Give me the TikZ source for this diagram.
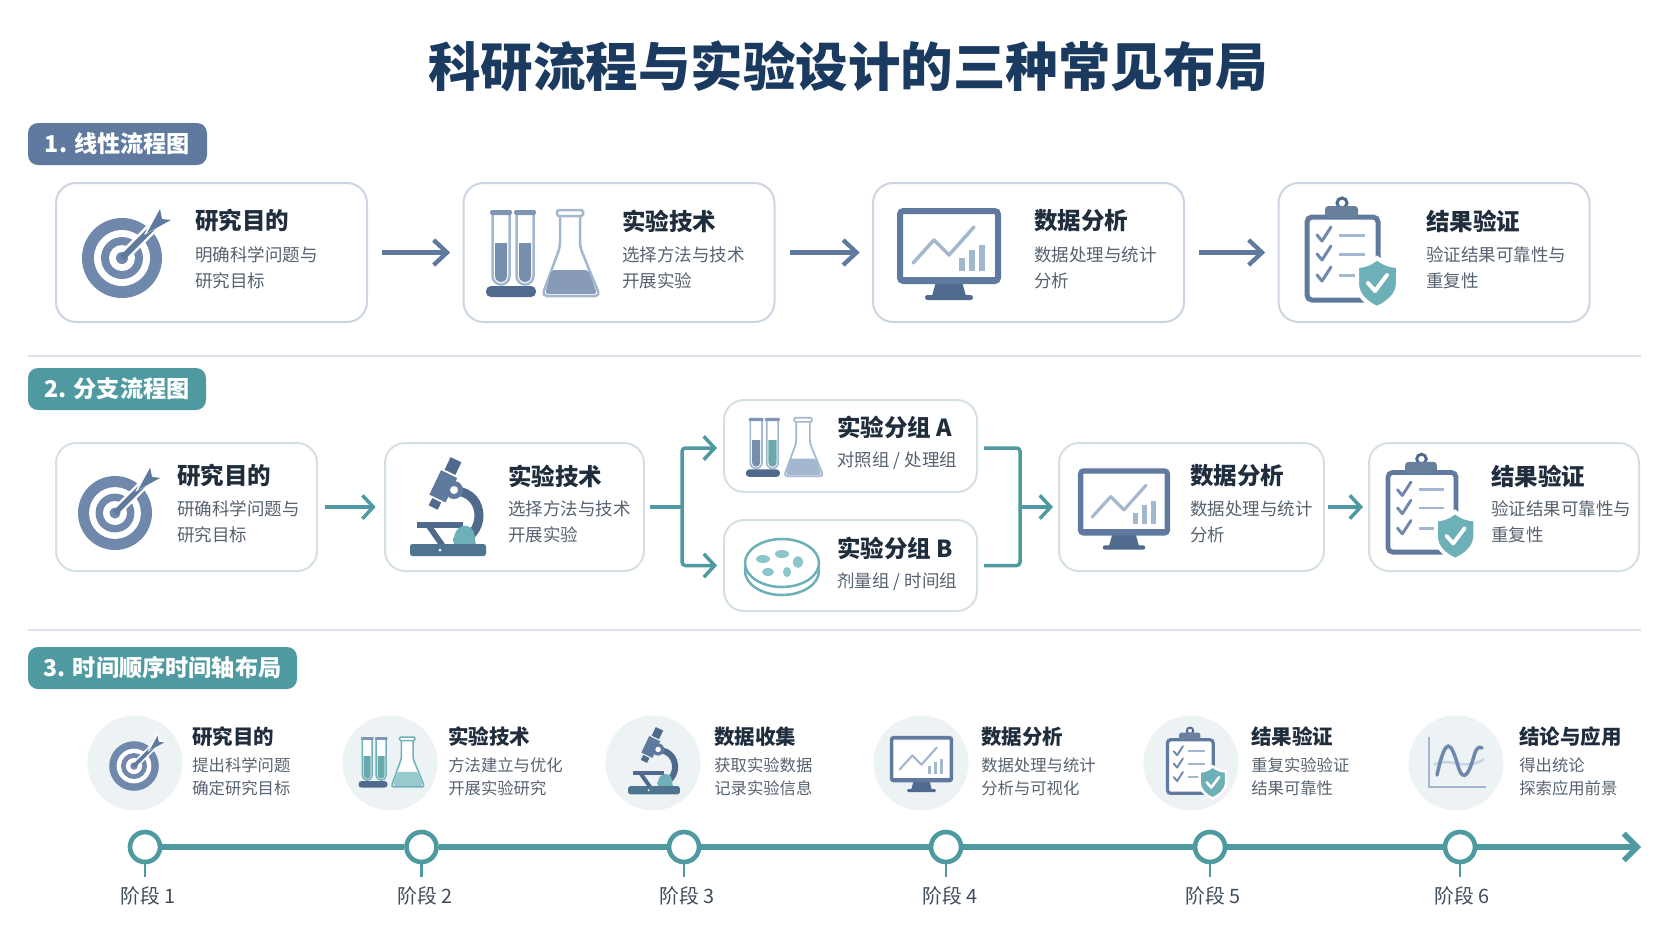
\documentclass[tikz,border=0pt]{standalone}
\usepackage{fontspec}
\setmainfont{Noto Sans CJK SC}
\usetikzlibrary{arrows.meta}

\definecolor{inktitle}{HTML}{1B3A5F}
\definecolor{inkhead}{HTML}{1F2D3D}
\definecolor{inksub}{HTML}{56626F}
\definecolor{slate}{HTML}{5F7A9E}
\definecolor{slatedark}{HTML}{4F6A8C}
\definecolor{slatelight}{HTML}{A3B8CF}
\definecolor{targetblue}{HTML}{7088AC}
\definecolor{teal}{HTML}{4E9AA0}
\definecolor{teallight}{HTML}{6DB0B8}
\definecolor{petal}{HTML}{8CC5CB}
\definecolor{edgeblue}{HTML}{CBD5E3}
\definecolor{edgeteal}{HTML}{D5E0E6}
\definecolor{rulegrey}{HTML}{DDE3EA}
\definecolor{halo}{HTML}{EDF2F4}

\tikzset{
  card/.style={draw, fill=white, rounded corners=12pt, line width=1.2pt, inner sep=0pt},
  acard/.style={card, draw=edgeblue, minimum width=186.6pt, minimum height=83.4pt},
  bcard/.style={card, draw=edgeteal, minimum height=76.8pt},
  pill/.style={rounded corners=6pt, inner sep=0pt, minimum height=25.2pt, text=white,
    font=\fontsize{13.9}{17}\selectfont\bfseries},
  head/.style={anchor=west, inner sep=0pt, text=inkhead, font=\fontsize{14.1}{17}\selectfont\bfseries},
  sub/.style={anchor=west, inner sep=0pt, text=inksub, align=left, font=\fontsize{10.5}{15.4}\selectfont},
  chead/.style={anchor=west, inner sep=0pt, text=inkhead, font=\fontsize{12.3}{15}\selectfont\bfseries},
  csub/.style={anchor=west, inner sep=0pt, text=inksub, align=left, font=\fontsize{9.8}{13.8}\selectfont},
  flowa/.style={draw=slate, line width=2.6pt, -{Straight Barb[length=8pt, width=15pt]}, shorten <=8.4pt, shorten >=7.4pt},
  flowb/.style={draw=teal, line width=2.1pt, -{Straight Barb[length=6.5pt, width=14pt]}},
  halodisc/.style={circle, fill=halo, minimum size=57pt, inner sep=0pt},
  stage/.style={circle, draw=teal, fill=white, line width=2.8pt, minimum size=18pt, inner sep=0pt},
  stagelab/.style={inner sep=0pt, text=inkhead!85, font=\fontsize{11.9}{14}\selectfont},
  axisline/.style={draw=teal, line width=3.3pt},
}

% target with arrow
\newcommand{\icontarget}[3]{\begin{scope}[shift={(#1,#2)}, scale=#3]
  \fill[targetblue] (0,0) circle[radius=40];
  \fill[white] (0,0) circle[radius=28];
  \fill[targetblue] (0,0) circle[radius=21];
  \fill[white] (0,0) circle[radius=13];
  \fill[targetblue] (0,0) circle[radius=6];
  \draw[white, line width=#3*6.6pt] (8,-8) -- (34,-34);
  \draw[slate, line width=#3*3.6pt] (0,0) -- (34,-34);
  \fill[white] (22,-23) -- (37,-53) -- (42,-42) -- (53,-40) -- cycle;
  \fill[slate] (25,-25) -- (38,-49) -- (40,-39) -- (49,-38) -- cycle;
\end{scope}}

% two tubes and a flask
\newcommand{\icontubes}[7]{\begin{scope}[shift={(#1,#2)}, scale=#3]
  \draw[#4, line width=#3*1.5pt, fill=white] (-49.5,-38) -- (-49.5,23) arc[start angle=180, end angle=0, radius=8.5] -- (-32.5,-38);
  \draw[#4, line width=#3*1.5pt, fill=white] (-25.5,-38) -- (-25.5,23) arc[start angle=180, end angle=0, radius=8.5] -- (-8.5,-38);
  \fill[#5] (-47,-10) -- (-47,23) arc[start angle=180, end angle=0, radius=6] -- (-35,-10) -- cycle;
  \fill[#6] (-23,-10) -- (-23,23) arc[start angle=180, end angle=0, radius=6] -- (-11,-10) -- cycle;
  \fill[slate!80, rounded corners=#3*1pt] (-52,-43) rectangle (-30,-38);
  \fill[slate!80, rounded corners=#3*1pt] (-28,-43) rectangle (-6,-38);
  \fill[slatedark, rounded corners=#3*3pt] (-56,33) rectangle (-6,44);
  \draw[#4, line width=#3*1.5pt, fill=white, rounded corners=#3*3pt] (18,-37) -- (18,-6) -- (0,43) -- (58,43) -- (38,-6) -- (38,-37);
  \fill[#7, rounded corners=#3*2pt] (9.5,17) -- (46.5,17) -- (55,41) -- (3,41) -- cycle;
  \draw[#4, line width=#3*1.5pt, fill=white, rounded corners=#3*1pt] (15,-43) rectangle (41,-37);
\end{scope}}

% monitor with line and bars
\newcommand{\iconmonitor}[3]{\begin{scope}[shift={(#1,#2)}, scale=#3]
  \fill[slatedark] (-13,28) -- (13,28) -- (17,42) -- (-17,42) -- cycle;
  \fill[slatedark, rounded corners=#3*1.5pt] (-24,41) rectangle (24,46);
  \draw[slate, line width=#3*3.6pt, fill=white, rounded corners=#3*2pt] (-49,-43) rectangle (49,27);
  \draw[slate, line width=#3*3.6pt] (-49,26) -- (49,26);
  \draw[slatelight, line width=#3*2.1pt, line cap=round, line join=round] (-36,9) -- (-15,-14) -- (0,1) -- (25,-27);
  \fill[slatelight] (10,4) rectangle (16,17);
  \fill[slatelight] (20,-4) rectangle (26,17);
  \fill[slatelight] (30,-9) rectangle (36,17);
\end{scope}}

% clipboard with checks and shield
\newcommand{\iconclip}[3]{\begin{scope}[shift={(#1,#2)}, scale=#3]
  \draw[slate, line width=#3*3pt, fill=white, rounded corners=#3*3pt] (-35,-36) rectangle (36,47);
  \draw[slatedark, line width=#3*1.8pt] (0,-50) circle[radius=5];
  \fill[slatedark!85, rounded corners=#3*2pt] (-17,-47) rectangle (16,-35);
  \draw[targetblue, line width=#3*1.8pt, line cap=round, line join=round] (-25,-18) -- (-20,-12) -- (-11,-26);
  \draw[targetblue, line width=#3*1.8pt, line cap=round, line join=round] (-25,1) -- (-20,7) -- (-11,-7);
  \draw[targetblue, line width=#3*1.8pt, line cap=round, line join=round] (-25,22) -- (-20,28) -- (-11,14);
  \draw[slatelight, line width=#3*1.8pt] (-3,-18) -- (23,-18);
  \draw[slatelight, line width=#3*1.8pt] (-3,1) -- (23,1);
  \draw[slatelight, line width=#3*1.8pt] (-3,22) -- (15,22);
  \draw[white, line width=#3*2.4pt, fill=teallight] (35,5) .. controls (42,11) and (50,13) .. (56,13) -- (56,30) .. controls (56,42) and (46,50) .. (35,55) .. controls (24,50) and (15,42) .. (15,30) -- (15,13) .. controls (21,13) and (28,11) .. (35,5) -- cycle;
  \draw[white, line width=#3*2.4pt, line cap=round, line join=round] (26,30) -- (33,38) -- (45,22);
\end{scope}}

% microscope
\newcommand{\iconscope}[3]{\begin{scope}[shift={(#1,#2)}, scale=#3]
  \draw[slatedark, line width=#3*5.4pt] (8,-16) .. controls (38,-14) and (40,30) .. (6,36);
  \fill[slatedark] (2.6,-49.9) -- (13.4,-44.7) -- (7.4,-32.1) -- (-3.4,-37.3) -- cycle;
  \fill[slate] (9.2,-29) -- (-7,-36.8) -- (-18.6,-12.4) -- (-2.4,-4.6) -- cycle;
  \fill[slatedark] (-6.8,-4.5) -- (-15.8,-8.9) -- (-19.3,-1.7) -- (-10.3,2.7) -- cycle;
  \fill[slate] (6,-17) circle[radius=9];
  \fill[white] (6,-17) circle[radius=4];
  \fill[slatedark] (-22,20) -- (-15,20) -- (-3,37) -- (-10,37) -- cycle;
  \fill[slatedark] (-31,15) rectangle (15,21);
  \fill[teallight] (6,38) .. controls (4,22) and (14,16) .. (22,20) .. controls (28,24) and (26,32) .. (28,38) -- cycle;
  \fill[slatedark!80!teal, rounded corners=#3*1.5pt] (-38,37) rectangle (38,49);
  \fill[white] (-8,43) circle[radius=1.5];
\end{scope}}

% petri dish
\newcommand{\icondish}[3]{\begin{scope}[shift={(#1,#2)}, scale=#3]
  \draw[teallight, line width=1.5pt, fill=white] (0,6) ellipse[x radius=37, y radius=24];
  \draw[teallight, line width=1.5pt, fill=white] (0,-2) ellipse[x radius=37, y radius=24];
  \fill[petal] (-19,-6) ellipse[x radius=7, y radius=4];
  \fill[petal] (0,-11) ellipse[x radius=7, y radius=4];
  \fill[petal] (16,-3) ellipse[x radius=5, y radius=6];
  \fill[petal] (5,7) ellipse[x radius=4, y radius=5];
  \fill[petal] (-14,7) ellipse[x radius=6, y radius=4];
\end{scope}}

% small chart with curves
\newcommand{\iconchart}[2]{\begin{scope}[shift={(#1,#2)}]
  \draw[slatelight, line width=1.5pt] (-27,-25) -- (-27,25) -- (30,25);
  \draw[slatelight!60, line width=1.5pt] (-22,3) .. controls (-8,-6) and (10,10) .. (28,-3);
  \draw[targetblue, line width=2.1pt, line cap=round] (-19,13) .. controls (-10,-28) and (-5,-20) .. (2,4) .. controls (8,24) and (14,8) .. (18,-6) .. controls (20,-14) and (23,-16) .. (26,-14);
\end{scope}}

\begin{document}
\begin{tikzpicture}[x=.6pt, y=-.6pt]
  \useasboundingbox (0,0) rectangle (1672,941);

  \node[inner sep=0pt, text=inktitle, font=\fontsize{31.5}{36}\selectfont\bfseries] (title) at (848, 66) {科研流程与实验设计的三种常见布局};

  % section 1
  \node[pill, fill=slate, minimum width=107.4pt] (sec1) at (117.5, 144) {1. 线性流程图};
  \node[acard] (a1) at (211.5, 252.5) {};
  \node[acard] (a2) at (619, 252.5) {};
  \node[acard] (a3) at (1028.5, 252.5) {};
  \node[acard] (a4) at (1434, 252.5) {};
  \draw[flowa] (a1) -- (a2);
  \draw[flowa] (a2) -- (a3);
  \draw[flowa] (a3) -- (a4);
  \icontarget{122}{258}{1}
  \icontubes{542}{253}{1}{slatelight}{slate!85}{slate!85}{slate!75}
  \iconmonitor{949}{254}{1}
  \iconclip{1342}{253}{1}
  \node[head] (a1t) at (195, 221) {研究目的};
  \node[sub] (a1s) at (195, 268) {明确科学问题与\\研究目标};
  \node[head] (a2t) at (622, 221) {实验技术};
  \node[sub] (a2s) at (622, 268) {选择方法与技术\\开展实验};
  \node[head] (a3t) at (1034, 221) {数据分析};
  \node[sub] (a3s) at (1034, 268) {数据处理与统计\\分析};
  \node[head] (a4t) at (1426, 221) {结果验证};
  \node[sub] (a4s) at (1426, 268) {验证结果可靠性与\\重复性};

  \coordinate (rule1l) at (28, 356);
  \coordinate (rule1r) at (1641, 356);
  \draw[rulegrey, line width=1.2pt] (rule1l) -- (rule1r);

  % section 2
  \node[pill, fill=teal, minimum width=106.8pt] (sec2) at (117, 389) {2. 分支流程图};
  \node[bcard, minimum width=156.6pt] (b1) at (186.5, 507) {};
  \node[bcard, minimum width=155.4pt] (b2) at (514.5, 507) {};
  \node[bcard, minimum width=151.8pt, minimum height=55.2pt] (ba) at (850.5, 446) {};
  \node[bcard, minimum width=151.8pt, minimum height=54.6pt] (bb) at (850.5, 565.5) {};
  \node[bcard, minimum width=159pt] (b3) at (1191.5, 507) {};
  \node[bcard, minimum width=162pt] (b4) at (1504, 507) {};
  \coordinate (split) at (682, 507);
  \coordinate (merge) at (1020, 507);
  \draw[flowb, shorten <=4.2pt, shorten >=5pt] (b1) -- (b2);
  \draw[teal, line width=2.1pt, shorten <=3pt] (b2) -- (split);
  \draw[flowb, rounded corners=2pt, shorten >=3.6pt] (split) |- ([yshift=-1.2pt]ba.west);
  \draw[flowb, rounded corners=2pt, shorten >=3.6pt] (split) |- (bb);
  \draw[teal, line width=2.1pt, rounded corners=2pt, shorten <=3.6pt] ([yshift=-1.2pt]ba.east) -| (merge);
  \draw[teal, line width=2.1pt, rounded corners=2pt, shorten <=3.6pt] (bb) -| (merge);
  \draw[flowb, shorten >=3pt] (merge) -- (b3);
  \draw[flowb, shorten <=1.5pt, shorten >=3pt] (b3) -- (b4);
  \icontarget{115}{513}{.925}
  \iconscope{448}{507}{1}
  \icontubes{784}{447}{.68}{slatelight}{slate!85}{teal!85}{slatelight}
  \icondish{782}{565}{1}
  \iconmonitor{1124}{509}{.885}
  \iconclip{1421.5}{507}{.96}
  \node[head] (b1t) at (177, 476) {研究目的};
  \node[sub] (b1s) at (177, 521.5) {研确科学问题与\\研究目标};
  \node[head] (b2t) at (508, 476) {实验技术};
  \node[sub] (b2s) at (508, 521.5) {选择方法与技术\\开展实验};
  \node[head] (bat) at (837, 427) {实验分组 A};
  \node[sub] (bas) at (837, 461) {对照组 / 处理组};
  \node[head] (bbt) at (837, 548) {实验分组 B};
  \node[sub] (bbs) at (837, 582) {剂量组 / 时间组};
  \node[head] (b3t) at (1190, 476) {数据分析};
  \node[sub] (b3s) at (1190, 521.5) {数据处理与统计\\分析};
  \node[head] (b4t) at (1491, 476) {结果验证};
  \node[sub] (b4s) at (1491, 521.5) {验证结果可靠性与\\重复性};

  \coordinate (rule2l) at (28, 630);
  \coordinate (rule2r) at (1641, 630);
  \draw[rulegrey, line width=1.2pt] (rule2l) -- (rule2r);

  % section 3
  \node[pill, fill=teal, minimum width=161.4pt] (sec3) at (162.5, 668) {3. 时间顺序时间轴布局};
  \node[halodisc] (c1) at (135, 763) {};
  \node[halodisc] (c2) at (390, 763) {};
  \node[halodisc] (c3) at (653, 763) {};
  \node[halodisc] (c4) at (921, 763) {};
  \node[halodisc] (c5) at (1191, 763) {};
  \node[halodisc] (c6) at (1456, 763) {};
  \icontarget{134}{766}{.62}
  \icontubes{391}{762}{.58}{teallight}{teal!85}{teal!85}{teallight!70}
  \iconscope{654}{761}{.68}
  \iconmonitor{921.5}{764}{.61}
  \iconclip{1190}{763}{.645}
  \iconchart{1456}{762}
  \node[chead] (c1t) at (192, 737) {研究目的};
  \node[csub] (c1s) at (192, 776.5) {提出科学问题\\确定研究目标};
  \node[chead] (c2t) at (448, 737) {实验技术};
  \node[csub] (c2s) at (448, 776.5) {方法建立与优化\\开展实验研究};
  \node[chead] (c3t) at (714, 737) {数据收集};
  \node[csub] (c3s) at (714, 776.5) {获取实验数据\\记录实验信息};
  \node[chead] (c4t) at (981, 737) {数据分析};
  \node[csub] (c4s) at (981, 776.5) {数据处理与统计\\分析与可视化};
  \node[chead] (c5t) at (1251, 737) {结果验证};
  \node[csub] (c5s) at (1251, 776.5) {重复实验验证\\结果可靠性};
  \node[chead] (c6t) at (1519, 737) {结论与应用};
  \node[csub] (c6s) at (1519, 776.5) {得出统论\\探索应用前景};

  % timeline
  \node[stage] (s1) at (145, 847) {};
  \node[stage] (s2) at (421.5, 847) {};
  \node[stage] (s3) at (684, 847) {};
  \node[stage] (s4) at (946, 847) {};
  \node[stage] (s5) at (1210, 847) {};
  \node[stage] (s6) at (1460, 847) {};
  \coordinate (tip) at (1641, 847);
  \draw[axisline] (s1) -- (s2);
  \draw[axisline] (s2) -- (s3);
  \draw[axisline] (s3) -- (s4);
  \draw[axisline] (s4) -- (s5);
  \draw[axisline] (s5) -- (s6);
  \draw[axisline, -{Straight Barb[length=8pt, width=16pt]}] (s6) -- (tip);
  \coordinate (t1) at (145, 877);
  \coordinate (t2) at (421.5, 877);
  \coordinate (t3) at (684, 877);
  \coordinate (t4) at (946, 877);
  \coordinate (t5) at (1210, 877);
  \coordinate (t6) at (1460, 877);
  \draw[teal, line width=1.5pt] (s1) -- (t1);
  \draw[teal, line width=1.5pt] (s2) -- (t2);
  \draw[teal, line width=1.5pt] (s3) -- (t3);
  \draw[teal, line width=1.5pt] (s4) -- (t4);
  \draw[teal, line width=1.5pt] (s5) -- (t5);
  \draw[teal, line width=1.5pt] (s6) -- (t6);
  \node[stagelab] (l1) at (148, 896) {阶段 1};
  \node[stagelab] (l2) at (425, 896) {阶段 2};
  \node[stagelab] (l3) at (687, 896) {阶段 3};
  \node[stagelab] (l4) at (950, 896) {阶段 4};
  \node[stagelab] (l5) at (1213, 896) {阶段 5};
  \node[stagelab] (l6) at (1462, 896) {阶段 6};
\end{tikzpicture}
\end{document}
